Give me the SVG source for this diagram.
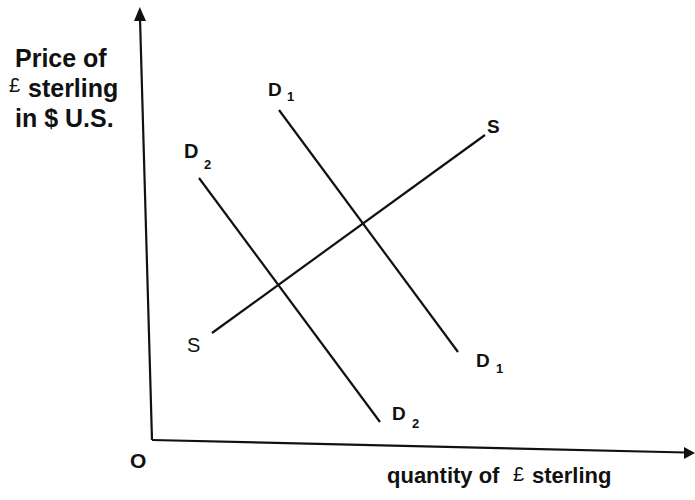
<svg xmlns="http://www.w3.org/2000/svg" width="695" height="500" viewBox="0 0 695 500">
<style>
text{font-family:"Liberation Sans",Arial,sans-serif;font-weight:bold;fill:#111}
.ax{stroke:#111;stroke-width:2.2;fill:none}
.ln{stroke:#111;stroke-width:2.2;fill:none}
.sub{font-size:13px}
</style>
<rect width="695" height="500" fill="#fff"/>
<g id="axes">
<line class="ax" x1="140" y1="18" x2="152" y2="440"/>
<polygon points="139.8,7 134,21 146,21" fill="#111"/>
<line class="ax" x1="152" y1="440" x2="686" y2="452.5"/>
<polygon points="695,453 684,447 684,459" fill="#111"/>
<text x="130" y="468" font-size="21">O</text>
</g>
<g id="labels">
<text x="15" y="67" font-size="25">Price of</text>
<text x="9" y="92" font-size="20" font-weight="normal" style="font-weight:normal">£</text>
<text x="28" y="97" font-size="25">sterling</text>
<text x="15" y="127" font-size="25">in $ U.S.</text>
<text x="387" y="483" font-size="22">quantity of</text>
<text x="513" y="481" font-size="20" style="font-weight:normal">£</text>
<text x="532" y="483" font-size="22">sterling</text>
</g>
<g id="connectors">
<line id="S" class="ln" x1="212" y1="333" x2="485" y2="135"/>
<line id="D1" class="ln" x1="279" y1="110" x2="458" y2="352"/>
<line id="D2" class="ln" x1="199" y1="178" x2="380" y2="422"/>
</g>
<g id="S-labels">
<text x="487" y="133" font-size="19">S</text>
<text x="187" y="352" font-size="20" style="font-weight:normal" fill="#444">S</text>
</g>
<g id="D1-labels">
<text x="268" y="96" font-size="19">D</text><text class="sub" x="287" y="101">1</text>
<text x="476" y="367" font-size="19">D</text><text class="sub" x="496" y="373">1</text>
</g>
<g id="D2-labels">
<text x="184" y="158" font-size="20">D</text><text class="sub" x="204" y="169">2</text>
<text x="392" y="420" font-size="19">D</text><text class="sub" x="412" y="428">2</text>
</g>
</svg>
